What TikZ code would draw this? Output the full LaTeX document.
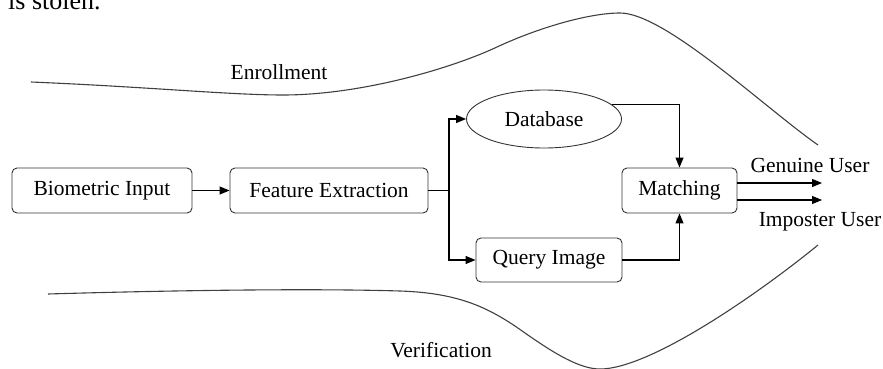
\documentclass[tikz,border=0pt]{standalone}
\usepackage{fontspec}
\setmainfont{Liberation Serif}
\usetikzlibrary{arrows.meta,shapes.geometric}

\tikzset{
  stagebox/.style={draw=black!80, line width=0.9pt, rounded corners=5pt,
    inner sep=0pt, minimum height=45pt, font=\fontsize{21.5}{24}\selectfont},
  storeshape/.style={ellipse, draw=black!80, line width=0.9pt, inner sep=0pt,
    minimum width=155pt, minimum height=58pt, font=\fontsize{21.5}{24}\selectfont},
  flow/.style={line width=1.1pt, -{Triangle[length=10pt,width=8pt]}},
  plainflow/.style={line width=1.1pt},
  boundary/.style={draw=black!75, line width=1.1pt},
  caption/.style={font=\fontsize{21.5}{24}\selectfont, inner sep=0pt}
}

\begin{document}
\begin{tikzpicture}[x=1pt, y=-1pt]
  \useasboundingbox (0,0) rectangle (883,369);

  % running text above the figure
  \node[anchor=base west, inner sep=0pt, font=\fontsize{26}{30}\selectfont] (stolen) at (8,10) {is stolen.};

  % enrollment boundary
  \draw[boundary] (31,82)
    .. controls (150,87) and (230,95) .. (283,95)
    .. controls (360,95) and (450,69) .. (497,47)
    .. controls (540,27) and (590,13) .. (620,13)
    .. controls (665,13) and (765,108) .. (818,145);
  % verification boundary
  \draw[boundary] (48,294)
    .. controls (150,291) and (300,288) .. (400,291)
    .. controls (460,293) and (490,308) .. (525,333)
    .. controls (555,354) and (580,369) .. (600,369)
    .. controls (650,369) and (758,294) .. (818,245);

  \node[caption] (enroll) at (279,72) {Enrollment};
  \node[caption] (verify) at (441,350) {Verification};

  % processing stages
  \node[stagebox, minimum width=180pt] (bio) at (102,190.5) {Biometric Input};
  \node[stagebox, minimum width=198pt] (feat) at (329,190.5) {Feature Extraction};
  \node[storeshape] (db) at (544,119) {Database};
  \node[stagebox, minimum width=146pt, minimum height=44pt] (query) at (549,260) {Query Image};
  \node[stagebox, minimum width=115pt] (match) at (679.5,190.5) {Matching};

  \coordinate (split) at (449,190.5);
  \coordinate (genuineEnd) at (822,183);
  \coordinate (imposterEnd) at (822,200);

  % connectors
  \draw[flow] (bio) -- (feat);
  \draw[plainflow] (feat.east) -- (split);
  \draw[flow] (split) |- (db.west);
  \draw[flow] (split) |- (query.west);
  \draw[flow] (db.12) -| (match.north);
  \draw[flow] (query.east) -| (match.south);
  \draw[flow] (match.east |- genuineEnd) -- (genuineEnd);
  \draw[flow] (match.east |- imposterEnd) -- (imposterEnd);

  \node[caption] (genuine) at (810,165) {Genuine User};
  \node[caption] (imposter) at (820,222) {Imposter User};
\end{tikzpicture}
\end{document}
